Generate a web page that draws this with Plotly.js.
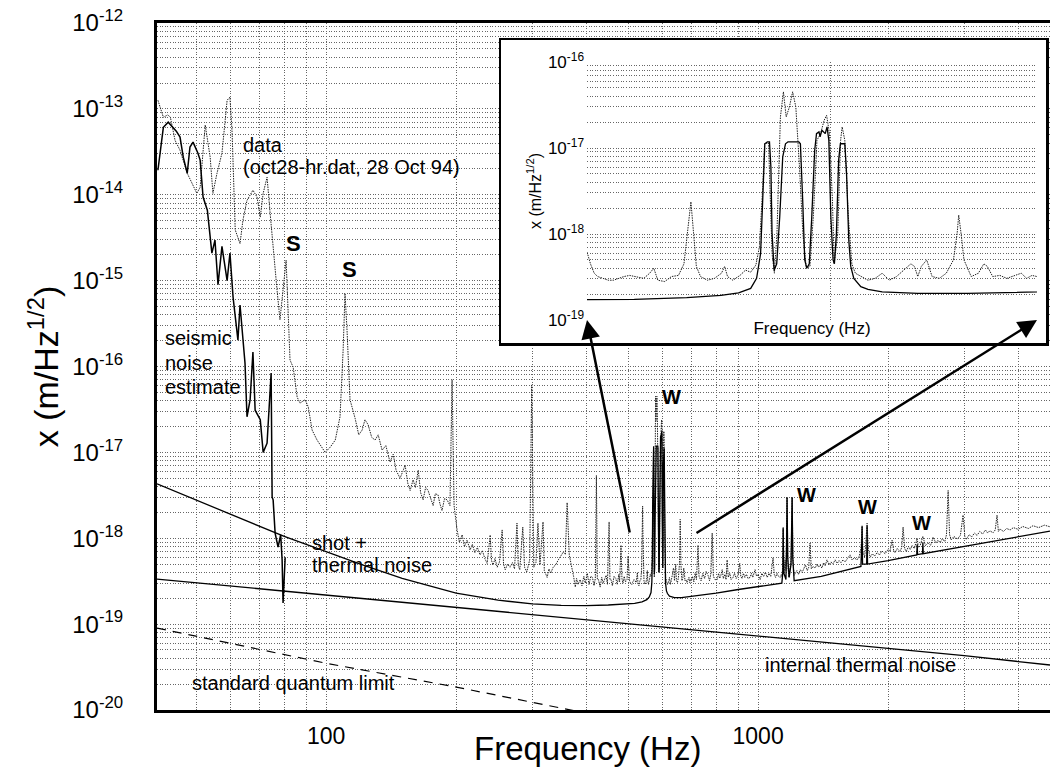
<!DOCTYPE html>
<html><head><meta charset="utf-8">
<script src="https://cdn.plot.ly/plotly-3.0.1.min.js"></script>
<style>html,body{margin:0;padding:0;background:#fff;} #chart{width:1050px;height:773px;}</style>
</head><body><div id="chart"></div>
<script>
// ---------- measured spectrum (gray dotted "data") ----------
const dataFreq = [40.8,42.0,43.0,43.6,44.7,45.9,47.7,50.2,51.1,52.5,53.9,54.7,55.9,57.4,59.0,59.9,60.6,61.6,63.2,64.2,65.6,67.7,69.2,70.4,71.5,73.0,74.2,76.2,77.0,78.2,79.5,80.8,82.5,83.9,85.7,87.0,89.4,90.9,92.8,95.3,99.5,102.2,105.0,107.7,109.5,110.6,
111.8,113.6,116.7,119,121.2,123,125.1,127.5,129.8,132,134.8,137.5,140.6,143,145.2,148.3,150.5,152.4,154.5,156.5,159.0,161,163.4,165.5,167.7,170,172.2,174.5,176.9,179,181.6,183.5,185.5,188,190.6,193.5,195.7,197.8,
201.0,203.5,206.5,209,212,215.4,218,221,224,227.2,230,233,236.0,239.8,241.5,243.6,246,249.0,252,255.6,257.5,259.8,263,266.5,270,273,276.6,278.5,280.8,285.3,288,291.4,294,296,299.2,302.5,306,309.3,312.7,317.8,320,324.9,328,331,335.4,340,344.8,349,354.0,358,361.4,365.5,368,371.3,374,377.5,380,383,387.4,391,395,398,402.5,406,410,413.6,417,420,422.4,424.5,427.0,431,434.5,438.0,441,444.8,448,452.0,454,456.6,460,464,468.4,472,476,478,481.6,484,486.7,490,493,497.3,
500.0,501.3,502.7,504.0,506.0,508.0,510.0,512.1,514.0,516.2,519.0,521.7,524.0,525.6,527.2,529.9,532.6,535.4,537.6,539.0,540.4,541.5,542.6,544.3,547.1,550.0,552.9,554.2,555.4,557.6,560.6,562.9,565.1,567.3,568.8,570.2,571.0,572.7,574.2,575.2,576.3,577.8,579.1,580.3,581.7,583.1,584.5,586.1,587.6,589.1,590.7,592.2,593.8,595.4,597.0,598.1,599.4,600.7,601.5,603.1,604.4,605.1,606.3,607.9,609.5,611.1,613.6,616.9,620.2,623.5,626.8,630.2,633.6,637.0,638.7,640.3,642.0,644.6,647.2,650.7,654.1,657.6,659.4,660.2,661.4,662.8,666.4,670.0,672.7,674.5,677.2,680.8,684.4,688.1,691.8,694.6,697.4,700.0,
705,710,715,720,726,730,738,745,752,758,766,772,777,783,788,795,804,810,815,820,826,831,838,843,848,853,860,866,875,882,890,898,907,912,918,925,932,940,948,958,965,972,984,992,1000,1011,1020,1030,1040,1050,1060,1070,1083,1090,1098,1106,1115,1125,1132,1138,1143,1149,1155,1160,1167,1173,1179,1186,1192,1199,1205,1212,1220,
1230,1240,1253,1265,1276,1287,1300,1310,1319,1328,1340,1355,1370,1380,1392,1405,1418,1430,1444,1460,1475,1490,1508,1525,1540,1555,1573,1590,1610,1633,1650,1670,1695,1715,1730,1741,1750,1765,1775,1788,1800,1817,1840,1860,1886,1910,1935,1969,2000,2020,2043,2060,2075,2100,2131,2150,2166,2185,2202,2230,2250,2274,2300,2335,2350,2372,2407,2440,2474,2510,2542,2580,2610,2638,2670,2706,2730,2754,2775,2800,2840,2893,2940,2982,3010,3033,3080,3123,3170,3213,3260,3310,3360,3400,3438,3500,3540,3574,3600,3630,3700,3760,3832,3900,4000,4100,4225,4330,4460,4600,4740];
const dataAmp = [1.26e-13,8.0e-14,8.5e-14,8.0e-14,4.3e-14,3.3e-14,1.78e-14,1.04e-14,1.22e-14,6.5e-14,2.74e-14,1.04e-14,1.78e-14,3.05e-14,1.26e-13,1.37e-13,5.2e-14,3.9e-15,2.7e-15,5.1e-15,8.6e-15,1.13e-14,9.4e-15,5.5e-15,1.04e-14,1.6e-14,6.1e-15,1.22e-15,7.7e-16,3.5e-16,7.7e-16,1.73e-15,1.19e-16,9.8e-17,4.4e-17,3.75e-17,4.1e-17,3.4e-17,1.82e-17,1.39e-17,1.0e-17,1.15e-17,1.39e-17,2.6e-17,1.55e-16,7.1e-16,
2.65e-16,4.1e-17,2.5e-17,1.6e-17,1.82e-17,2.4e-17,2.1e-17,1.5e-17,1.39e-17,1.6e-17,1.06e-17,1.2e-17,7.7e-18,9.5e-18,6.2e-18,5.0e-18,6.0e-18,7.1e-18,4.4e-18,3.6e-18,4.8e-18,3.9e-18,6.2e-18,3.4e-18,2.8e-18,3.9e-18,3.6e-18,2.9e-18,2.4e-18,3.3e-18,3.2e-18,2.5e-18,2.1e-18,2.9e-18,2.8e-18,2.4e-18,7.0e-17,2.4e-18,
1.25e-18,9.0e-19,1.1e-18,8.0e-19,9.5e-19,7.3e-19,8.5e-19,6.8e-19,7.8e-19,6.4e-19,7.2e-19,5.8e-19,5.1e-19,1.09e-18,5.5e-19,4.9e-19,5.8e-19,4.6e-19,5.3e-19,1.25e-18,5.0e-19,4.3e-19,5.0e-19,4.6e-19,5.2e-19,4.4e-19,1.5e-18,4.8e-19,4.3e-19,1.35e-18,4.6e-19,4.05e-19,5.0e-19,5.6e-19,6.1e-17,4.6e-19,5.2e-19,1.5e-18,4.9e-19,1.55e-18,4.2e-19,3.5e-19,4.4e-19,3.9e-19,4.6e-19,4.9e-19,5.6e-19,6.1e-19,6.9e-19,6.5e-19,2.6e-18,6.4e-19,5.5e-19,4.6e-19,3.6e-19,2.7e-19,3.4e-19,2.9e-19,3.3e-19,2.8e-19,3.6e-19,3.0e-19,3.9e-19,2.9e-19,3.6e-19,3.5e-19,2.8e-19,3.4e-19,5.4e-18,3.3e-19,3.3e-19,2.7e-19,3.5e-19,3.0e-19,3.4e-19,3.7e-19,2.9e-19,1.55e-18,3.3e-19,3.3e-19,2.8e-19,3.6e-19,3.4e-19,2.9e-19,3.8e-19,3.1e-19,8.3e-19,3.4e-19,3.0e-19,3.6e-19,3.1e-19,3.3e-19,
6.2e-19,4.5e-19,3.5e-19,3.2e-19,3.05e-19,2.9e-19,2.9e-19,3.05e-19,3.2e-19,3.3e-19,3.2e-19,3.05e-19,3.5e-19,4.0e-19,2.9e-19,2.8e-19,3.2e-19,3.3e-19,4.5e-19,1.0e-18,2.37e-18,1.0e-18,4.2e-19,3.2e-19,2.9e-19,3.05e-19,3.5e-19,4.2e-19,3.2e-19,2.9e-19,3.3e-19,3.8e-19,3.6e-19,4.35e-19,7.1e-19,3.53e-18,1.12e-17,1.15e-17,5.9e-19,3.5e-19,1.0e-18,2.3e-17,4.5e-17,2.3e-17,3.0e-17,4.5e-17,3.0e-17,6.0e-18,1.0e-18,4.0e-19,4.2e-19,1.6e-18,1.23e-17,1.47e-17,2.1e-17,2.4e-17,1.47e-17,2.5e-18,4.5e-19,1.0e-18,1.23e-17,1.76e-17,1.23e-17,1.6e-18,4.5e-19,3.5e-19,3.2e-19,2.9e-19,3.05e-19,3.5e-19,2.9e-19,3.2e-19,3.8e-19,4.5e-19,4.2e-19,3.2e-19,4.2e-19,5.0e-19,3.2e-19,3.05e-19,3.5e-19,5.0e-19,1.0e-18,1.66e-18,1.0e-18,5.0e-19,3.2e-19,3.5e-19,4.5e-19,4.2e-19,3.2e-19,3.3e-19,3.05e-19,3.3e-19,3.5e-19,3.05e-19,3.3e-19,3.2e-19,
3.6e-19,3.1e-19,3.9e-19,3.3e-19,8.3e-19,3.6e-19,3.2e-19,3.9e-19,3.4e-19,4.1e-19,3.7e-19,3.2e-19,3.8e-19,1.15e-18,3.6e-19,3.3e-19,3.3e-19,3.9e-19,3.4e-19,3.7e-19,4.3e-19,3.4e-19,3.8e-19,3.3e-19,5.6e-19,3.5e-19,3.9e-19,3.3e-19,3.5e-19,3.9e-19,3.4e-19,3.7e-19,5.1e-19,3.6e-19,3.4e-19,3.9e-19,3.5e-19,3.8e-19,3.4e-19,3.5e-19,3.9e-19,3.5e-19,4.3e-19,3.6e-19,3.8e-19,3.3e-19,3.9e-19,3.6e-19,4.0e-19,3.5e-19,3.9e-19,3.6e-19,5.9e-19,3.8e-19,3.5e-19,3.9e-19,3.6e-19,3.5e-19,3.8e-19,3.5e-19,1.35e-18,4.0e-19,5.6e-19,4.2e-19,3.0e-18,4.5e-19,3.5e-19,4.6e-19,5.5e-19,3.0e-18,5.0e-19,3.7e-19,3.9e-19,
4.2e-19,3.8e-19,4.3e-19,4.0e-19,4.5e-19,4.9e-19,4.2e-19,4.6e-19,8.8e-19,4.4e-19,4.7e-19,4.5e-19,5.0e-19,4.6e-19,4.9e-19,4.5e-19,5.2e-19,4.8e-19,5.6e-19,4.9e-19,5.3e-19,5.0e-19,5.6e-19,5.1e-19,5.5e-19,5.2e-19,5.6e-19,5.3e-19,5.8e-19,6.4e-19,5.6e-19,5.9e-19,5.6e-19,6.2e-19,7.5e-19,1.35e-18,7.0e-19,6.0e-19,8.5e-19,1.5e-18,7.5e-19,6.0e-19,6.6e-19,6.2e-19,6.8e-19,6.4e-19,7.1e-19,6.6e-19,7.4e-19,7.0e-19,9.5e-19,7.2e-19,6.8e-19,7.6e-19,7.0e-19,7.8e-19,1.35e-18,7.6e-19,7.0e-19,8.0e-19,7.4e-19,8.2e-19,7.6e-19,1.0e-18,7.8e-19,8.2e-19,1.05e-18,8.2e-19,8.8e-19,8.3e-19,1.03e-18,8.8e-19,9.5e-19,8.9e-19,9.8e-19,9.2e-19,1.1e-18,3.6e-18,1.1e-18,9.6e-19,1.05e-18,9.8e-19,1.08e-18,1.86e-18,1.05e-18,9.7e-19,1.1e-18,1.04e-18,1.15e-18,1.08e-18,1.2e-18,1.12e-18,1.25e-18,1.15e-18,1.22e-18,1.16e-18,1.25e-18,1.86e-18,1.2e-18,1.28e-18,1.2e-18,1.3e-18,1.25e-18,1.33e-18,1.27e-18,1.37e-18,1.3e-18,1.4e-18,1.33e-18,1.42e-18,1.36e-18];

// ---------- seismic noise estimate ----------
const seisFreq = [40.8,42.0,43.1,44.2,45.0,45.9,46.7,47.7,48.4,49.2,50.5,51.1,51.9,53.1,53.9,54.4,55.3,56.2,57.4,58.3,59.0,59.9,60.9,62.5,63.2,64.9,65.6,66.7,67.7,68.5,70.4,71.5,73.0,74.6,75.0,75.4,76.2,77.4,78.5,79.1,79.5,80.4];
const seisAmp = [1.93e-14,6.1e-14,7.0e-14,6.1e-14,5.5e-14,4.7e-14,2.74e-14,1.78e-14,3.6e-14,4.1e-14,3.05e-14,2.53e-14,9.4e-15,6.6e-15,3.57e-15,2.09e-15,2.96e-15,9.0e-16,2.5e-15,1.44e-15,1.0e-15,2.09e-15,6.4e-16,2.03e-16,5.2e-16,1.1e-16,2.6e-17,4.1e-17,1.47e-16,3.1e-17,2.4e-17,1.0e-17,1.28e-17,8.4e-17,3.0e-18,2.8e-18,1.15e-18,7.9e-19,1.1e-18,5.6e-19,1.76e-19,6.0e-19];

// ---------- shot + thermal noise model ----------
const modelFreq = [40.6,50,60,70,80,100,120,150,200,250,300,350,400,450,
500,518,538.7,552.7,560,565.1,567.6,569.3,570.2,571.1,572.2,573.1,573.7,574.2,575.1,576.2,577.5,578.8,580.0,581.1,585.8,586.5,587.5,588.4,589.3,590.4,591.5,592.8,593.6,594.7,595.2,596.0,597.5,598.3,599.1,600.0,601.0,601.6,602.5,603.5,604.3,606.3,607.1,608.1,609.0,610.4,613.6,616.9,623.5,640.3,664.6,700,
800,900,1000,1100,1135,1141,1143,1146,1160,1164,1167,1171,1180,1192,1196,1199,1203,1212,1400,1600,1730,1738,1741,1745,1784,1788,1792,2000,2300,2330,2335,2340,2402,2407,2412,2940,3500,4000,4740];
const modelAmp = [4.3e-18,2.8e-18,1.9e-18,1.4e-18,1.05e-18,7.0e-19,5.0e-19,3.4e-19,2.3e-19,1.9e-19,1.72e-19,1.65e-19,1.64e-19,1.67e-19,
1.7e-19,1.74e-19,1.82e-19,1.93e-19,2.07e-19,2.33e-19,3.05e-19,5.9e-19,2.5e-18,1.12e-17,1.18e-17,1.18e-17,6.0e-18,1.01e-18,3.8e-19,4.5e-19,1.58e-18,7.9e-18,1.12e-17,1.18e-17,1.18e-17,1.12e-17,2.5e-18,5.0e-19,4.0e-19,4.5e-19,1.58e-18,9.4e-18,1.47e-17,1.54e-17,1.35e-17,1.61e-17,1.47e-17,1.76e-17,1.23e-17,1.58e-18,5.0e-19,4.5e-19,1.01e-18,7.2e-18,1.12e-17,1.12e-17,5.05e-18,8.5e-19,4.2e-19,3.05e-19,2.44e-19,2.27e-19,2.12e-19,2.04e-19,2.04e-19,2.1e-19,
2.3e-19,2.53e-19,2.75e-19,2.95e-19,3.0e-19,4.0e-19,1.3e-18,4.0e-19,3.3e-19,8.0e-19,3.0e-18,6.0e-19,3.5e-19,5.0e-19,2.5e-18,3.0e-18,6.0e-19,3.2e-19,3.6e-19,4.3e-19,4.7e-19,9.0e-19,1.4e-18,5.0e-19,5.0e-19,1.4e-18,5.0e-19,5.5e-19,6.3e-19,6.4e-19,8.5e-19,6.45e-19,6.6e-19,9.0e-19,6.6e-19,7.9e-19,9.3e-19,1.04e-18,1.21e-18];

// ---------- internal thermal noise ----------
const thermFreq = [40.6,100,300,1000,3000,4740];
const thermAmp = [3.35e-19,2.18e-19,1.29e-19,7.3e-20,4.3e-20,3.34e-20];

// ---------- standard quantum limit ----------
const sqlFreq = [40.6,100,200,352,400];
const sqlAmp = [9.0e-20,3.5e-20,1.85e-20,1.05e-20,9.2e-21];

// ---------- axis ticks ----------
const yMainTickVals = [1e-20,1e-19,1e-18,1e-17,1e-16,1e-15,1e-14,1e-13,1e-12];
const yMainTickText = ['10<sup>-20</sup>','10<sup>-19</sup>','10<sup>-18</sup>','10<sup>-17</sup>','10<sup>-16</sup>','10<sup>-15</sup>','10<sup>-14</sup>','10<sup>-13</sup>','10<sup>-12</sup>'];
const xMainTickVals = [100,1000];
const xMainTickText = ['100','1000'];
const xMainGridVals = [50,60,70,80,90,200,300,400,500,600,700,800,900,2000,3000,4000];
const yInsetTickVals = [1e-19,1e-18,1e-17,1e-16];
const yInsetTickText = ['10<sup>-19</sup>','10<sup>-18</sup>','10<sup>-17</sup>','10<sup>-16</sup>'];
const xInsetGridVals = [500,600,700];

function minorLogVals(lo, hi){ // gridline positions 2..9 x 10^n
  const out=[];
  for(let e=lo;e<hi;e++){ for(let m=2;m<=9;m++){ out.push(m*Math.pow(10,e)); } }
  return out;
}

const FONT = 'Liberation Sans, Arial, Helvetica, sans-serif';
const GRID = '#666';
const GDASH = '1px,1.6px';
const DATA_LINE = {color:'#222', width:1, dash:'1.5px,1px'};

const traces = [
  {x:dataFreq, y:dataAmp, xaxis:'x', yaxis:'y', mode:'lines', line:DATA_LINE, hoverinfo:'skip'},
  {x:seisFreq, y:seisAmp, xaxis:'x', yaxis:'y', mode:'lines', line:{color:'#000', width:1.5}, hoverinfo:'skip'},
  {x:modelFreq, y:modelAmp, xaxis:'x', yaxis:'y', mode:'lines', line:{color:'#000', width:1.3}, hoverinfo:'skip'},
  {x:thermFreq, y:thermAmp, xaxis:'x', yaxis:'y', mode:'lines', line:{color:'#000', width:1.3}, hoverinfo:'skip'},
  {x:sqlFreq, y:sqlAmp, xaxis:'x', yaxis:'y', mode:'lines', line:{color:'#000', width:1.2, dash:'9px,7px'}, hoverinfo:'skip'},
  // white frame of the inset (empty subplot)
  {x:[null], y:[null], xaxis:'x2', yaxis:'y2', mode:'lines', hoverinfo:'skip'},
  // inset
  {x:dataFreq, y:dataAmp, xaxis:'x3', yaxis:'y3', mode:'lines', line:DATA_LINE, hoverinfo:'skip'},
  {x:modelFreq, y:modelAmp, xaxis:'x3', yaxis:'y3', mode:'lines', line:{color:'#000', width:1.3}, hoverinfo:'skip'}
];

function lbl(x, y, text, opts){
  return Object.assign({xref:'x', yref:'y', x:x, y:y, text:text, showarrow:false, xanchor:'left', yanchor:'middle',
    font:{family:FONT, size:20, color:'#000'}}, opts||{});
}

const annotations = [
  lbl(1.8032, -13.423, 'data'),
  lbl(1.8032, -13.679, '(oct28-hr.dat, 28 Oct 94)'),
  lbl(1.9236, -14.563, '<b>S</b>', {xanchor:'center', font:{family:FONT, size:22, color:'#000'}}),
  lbl(2.0532, -14.866, '<b>S</b>', {xanchor:'center', font:{family:FONT, size:22, color:'#000'}}),
  lbl(1.6227, -15.669, 'seismic'),
  lbl(1.6227, -15.960, 'noise'),
  lbl(1.6227, -16.240, 'estimate'),
  lbl(1.963, -18.056, 'shot +'),
  lbl(1.963, -18.312, 'thermal noise'),
  lbl(1.6852, -19.686, 'standard quantum limit'),
  lbl(3.0116, -19.476, 'internal thermal noise'),
  lbl(2.7986, -16.356, '<b>W</b>', {xanchor:'center'}),
  lbl(3.1111, -17.497, '<b>W</b>', {xanchor:'center'}),
  lbl(3.2523, -17.637, '<b>W</b>', {xanchor:'center'}),
  lbl(3.3773, -17.823, '<b>W</b>', {xanchor:'center'}),
  // main x-axis title
  {xref:'paper', yref:'paper', x:430/893, y:-38/687, text:'Frequency (Hz)', showarrow:false, xanchor:'center', yanchor:'middle',
    font:{family:FONT, size:33, color:'#000'}},
  // arrows from the main plot to the inset corners
  {xref:'x3', yref:'y3', x:Math.log10(500), y:-19, ax:43, ay:214, axref:'pixel', ayref:'pixel', text:'', showarrow:true,
    arrowhead:2, arrowsize:1.5, arrowwidth:2.5, arrowcolor:'#000'},
  {xref:'x3', yref:'y3', x:Math.log10(700), y:-19, ax:-342, ay:214, axref:'pixel', ayref:'pixel', text:'', showarrow:true,
    arrowhead:2, arrowsize:1.5, arrowwidth:2.5, arrowcolor:'#000'}
];

const layout = {
  width:1050, height:773,
  margin:{l:157, r:0, t:23, b:63},
  paper_bgcolor:'#fff', plot_bgcolor:'#fff',
  showlegend:false,
  font:{family:FONT, color:'#000'},
  xaxis:{type:'log', range:[Math.log10(40.6), Math.log10(4740)], tickvals:xMainTickVals, ticktext:xMainTickText,
    tickfont:{size:23}, ticks:'', ticklabelstandoff:3,
    showgrid:true, gridcolor:GRID, griddash:GDASH, gridwidth:1,
    minor:{tickvals:xMainGridVals, showgrid:true, gridcolor:GRID, griddash:GDASH, gridwidth:1},
    showline:true, linecolor:'#000', linewidth:3, mirror:true, zeroline:false},
  yaxis:{type:'log', range:[-20,-12], tickvals:yMainTickVals, ticktext:yMainTickText,
    tickfont:{size:24}, ticks:'', ticklabelstandoff:26,
    showgrid:true, gridcolor:GRID, griddash:GDASH, gridwidth:1,
    minor:{tickvals:minorLogVals(-20,-12), showgrid:true, gridcolor:GRID, griddash:GDASH, gridwidth:1},
    showline:true, linecolor:'#000', linewidth:3, mirror:false, zeroline:false,
    title:{text:'x (m/Hz<sup>1/2</sup>)', font:{size:34}, standoff:4}},
  xaxis2:{domain:[344/893, 889/893], anchor:'y2', range:[0,1], showgrid:false, zeroline:false, showticklabels:false,
    ticks:'', showline:true, mirror:true, linecolor:'#000', linewidth:2.5, fixedrange:true},
  yaxis2:{domain:[367/687, 670/687], anchor:'x2', range:[0,1], showgrid:false, zeroline:false, showticklabels:false,
    ticks:'', showline:true, mirror:true, linecolor:'#000', linewidth:2.5, fixedrange:true},
  xaxis3:{domain:[430/893, 880/893], anchor:'y3', type:'log', range:[Math.log10(500), Math.log10(700)],
    tickvals:xInsetGridVals, showticklabels:false, ticks:'',
    showgrid:true, gridcolor:GRID, griddash:GDASH, gridwidth:1, showline:false, zeroline:false,
    title:{text:'Frequency (Hz)', font:{size:17}, standoff:2}},
  yaxis3:{domain:[390/687, 648/687], anchor:'x3', type:'log', range:[-19,-16],
    tickvals:yInsetTickVals, ticktext:yInsetTickText, tickfont:{size:17}, ticks:'', ticklabelstandoff:2,
    showgrid:true, gridcolor:GRID, griddash:GDASH, gridwidth:1,
    minor:{tickvals:minorLogVals(-19,-16), showgrid:true, gridcolor:GRID, griddash:GDASH, gridwidth:1},
    showline:false, zeroline:false,
    title:{text:'x (m/Hz<sup>1/2</sup>)', font:{size:16}, standoff:2}},
  annotations:annotations
};

Plotly.newPlot('chart', traces, layout, {staticPlot:true, displayModeBar:false});
</script></body></html>
